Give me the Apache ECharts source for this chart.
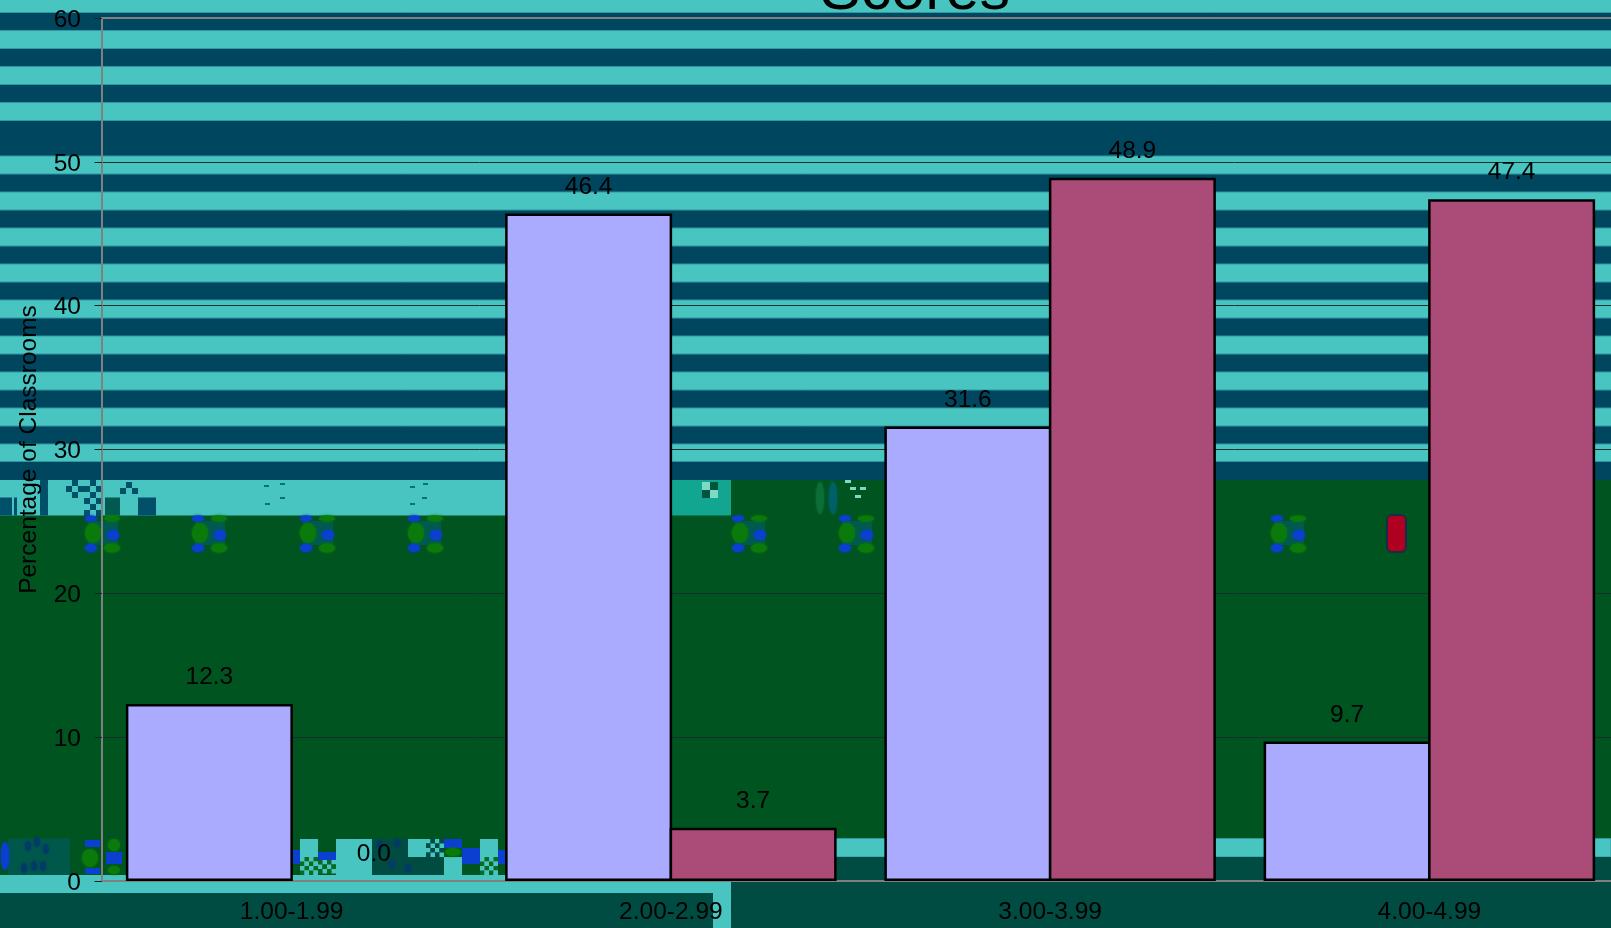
<!DOCTYPE html>
<html>
<head>
<meta charset="utf-8">
<style>html,body{margin:0;padding:0;background:#004C42}#c{width:1611px;height:928px}</style>
<script src="https://cdn.jsdelivr.net/npm/echarts@6/dist/echarts.min.js"></script>
</head>
<body>
<div id="c"></div>
<script>
const categories = ['1.00-1.99', '2.00-2.99', '3.00-3.99', '4.00-4.99'];
const lowerValues = [12.3, 46.4, 31.6, 9.7];
const upperValues = [0.0, 3.7, 48.9, 47.4];
const titleText = 'Scores';
const yAxisTitle = 'Percentage of Classrooms';

const TEAL = '#49C5C1', NAVY = '#00465F', GREEN = '#00541F', DEEP = '#004C42';
const FONT = '"Liberation Sans", Arial, sans-serif';
const bg = [];
function rect(x, y, w, h, fill, stroke) {
  bg.push({type: 'rect', z: -10, silent: true, shape: {x, y, width: w, height: h},
    style: {fill, stroke: stroke || null, lineWidth: stroke ? 1 : 0}});
}
function oval(cx, cy, rx, ry, fill) {
  bg.push({type: 'ellipse', z: -9, silent: true, shape: {cx, cy, rx, ry},
    style: {fill, shadowColor: fill, shadowBlur: 3}});
}
function checker(x, y, w, h, cell, a, b) {
  for (let i = 0; i < Math.round(w / cell); i++)
    for (let j = 0; j < Math.round(h / cell); j++)
      rect(x + i * cell, y + j * cell, cell, cell, (i + j) % 2 ? a : b);
}
function leaf(x) {
  rect(x + 4, 521, 30, 24, '#005A50');
  oval(x + 7, 518.5, 6, 3, '#0A3FD0');
  oval(x + 28, 518.5, 8, 3, '#0A7A0A');
  oval(x + 9, 533, 8, 10, '#0A7A0A');
  oval(x + 29, 535, 6, 5, '#0A3FD0');
  oval(x + 7, 548, 6, 4, '#0A3FD0');
  oval(x + 28, 548, 8, 4.5, '#0A7A0A');
}

// striped upper part of the backdrop
rect(0, 0, 1611, 480, NAVY);
rect(-2, -2, 1615, 14.5, TEAL, '#2E97A0');
[30.5, 66.5, 102.5, 156, 192, 228, 264, 300, 336, 372, 408, 444].forEach(y => {
  rect(-2, y, 1615, y === 444 ? 17.5 : 18, TEAL, '#2E97A0');
});

// middle bands
rect(0, 480, 672, 36, TEAL);
rect(672, 480, 939, 36, GREEN);
rect(672, 480, 59, 36, '#12A58F');
rect(0, 515.5, 1611, 323, GREEN);

// artefact row, left of the first bar
rect(0, 497.5, 12, 18, '#00506A');
rect(14, 497.5, 3, 18, '#00506A');
rect(40, 480, 8, 35.5, '#00506A');
checker(66, 480, 18, 18, 6, '#00506A', TEAL);
checker(84, 480, 18, 36, 6, '#00506A', TEAL);
rect(105, 497.5, 15, 18, '#005A50');
rect(120, 480, 18, 18, TEAL);
checker(120, 482, 18, 12, 6, '#00506A', TEAL);
rect(138, 497.5, 18, 18, '#00506A');
[[264, 485], [280, 483], [280, 497], [265, 503], [410, 486], [423, 483], [422, 497], [410, 503]].forEach(p => rect(p[0], p[1], 5, 2, '#0E6E78'));
checker(702, 482, 12, 16, 8, '#00553A', '#7ED9C6');
[[845, 480], [850, 487], [860, 487], [855, 495]].forEach(p => rect(p[0], p[1], 6, 3, '#7ED9C6'));
oval(820, 498, 4, 16, '#0C6E36');
oval(833, 498, 4, 16, '#00606A');
[84, 191, 299, 407, 731, 838, 1270].forEach(leaf);

// red badge
bg.push({type: 'rect', z: -9, silent: true, shape: {x: 1387, y: 515, width: 19, height: 37, r: 5},
  style: {fill: '#B00022', stroke: '#1B2A4A', lineWidth: 2}});

// lower artefact row
rect(0, 838.5, 510, 36.5, GREEN);
rect(8, 838.5, 62, 36.5, '#00584A');
[[28, 846], [37, 842], [46, 849], [24, 868], [34, 866], [43, 866]].forEach(p => oval(p[0], p[1], 3, 5, '#003A66'));
oval(5, 856, 4, 14, '#0A3FD0');
rect(85, 840, 15, 7, '#0A3FD0');
oval(90, 858, 8, 9, '#0A7A0A');
rect(85, 868, 15, 6, '#0A3FD0');
oval(114, 845, 6, 6, '#0A7A0A');
rect(106, 852, 16, 12, '#0A3FD0');
oval(114, 870, 6, 4, '#0A7A0A');
rect(293, 850, 7, 14, '#0A3FD0');
rect(300, 839, 18, 36, TEAL);
checker(300, 857, 18, 18, 4.5, '#0A6A20', TEAL);
rect(318, 839, 18, 36, GREEN);
rect(318, 852, 18, 12, '#0A3FD0');
checker(318, 860, 18, 15, 4.5, TEAL, '#0A6A20');
rect(336, 839, 36, 36, TEAL);
rect(372, 839, 71, 36, DEEP);
[[397, 843], [380, 845], [392, 864], [408, 868]].forEach(p => oval(p[0], p[1], 3, 4, '#003A66'));
rect(408, 839, 18, 18, TEAL);
checker(426, 839, 18, 18, 4.5, DEEP, TEAL);
rect(444, 839, 18, 9, '#0A3FD0');
oval(453, 852, 8, 4, '#0A7A0A');
rect(444, 857, 18, 18, TEAL);
rect(462, 848, 18, 16, '#0A3FD0');
rect(480, 839, 18, 36, TEAL);
checker(480, 857, 18, 18, 4.5, '#0A6A20', TEAL);
rect(498, 850, 8, 14, '#0A3FD0');

// bottom bands
rect(510, 838.5, 1101, 18.5, TEAL, '#2E97A0');
rect(510, 857, 1101, 71, DEEP);
rect(0, 875, 731, 18, TEAL);
rect(0, 893, 713, 35, DEEP);
rect(713, 893, 18, 35, TEAL);
rect(731, 875, 880, 53, DEEP);

const labelStyle = {show: true, position: 'top', distance: 14, color: '#000',
  fontFamily: FONT, fontSize: 24.5, formatter: p => Number(p.value).toFixed(1)};
const barBase = {type: 'bar', barWidth: 167, barGap: '-1.5%', label: labelStyle};
const withoutZeroOutline = values => values.map(v => v === 0 ? {value: v, itemStyle: {borderWidth: 0}} : v);

const chart = echarts.init(document.getElementById('c'), null, {renderer: 'canvas'});
chart.setOption({
  animation: false,
  backgroundColor: 'transparent',
  graphic: {elements: bg},
  title: {text: titleText, left: 910, top: -43, textAlign: 'center',
    textStyle: {fontFamily: FONT, fontSize: 61, fontWeight: 'normal', color: '#000'}},
  grid: {show: true, left: 102, top: 18, width: 1517, height: 863, outerBoundsMode: 'none', containLabel: false,
    backgroundColor: 'transparent', borderColor: '#808080', borderWidth: 2},
  xAxis: {type: 'category', data: categories,
    axisLine: {lineStyle: {color: '#808080', width: 2}},
    axisTick: {length: 7, lineStyle: {color: '#303030', width: 1}},
    axisLabel: {color: '#000', fontFamily: FONT, fontSize: 24.5, margin: 19}},
  yAxis: {type: 'value', min: 0, max: 60, interval: 10,
    name: yAxisTitle, nameLocation: 'middle', nameGap: 60, nameRotate: 90,
    nameTextStyle: {color: '#000', fontFamily: FONT, fontSize: 24.5},
    axisLine: {show: true, lineStyle: {color: '#808080', width: 2}},
    axisTick: {show: true, length: 7.5, lineStyle: {color: '#202020', width: 1}},
    axisLabel: {color: '#000', fontFamily: FONT, fontSize: 24.5, margin: 21, verticalAlign: 'top', lineHeight: 4},
    splitLine: {show: true, showMinLine: false, showMaxLine: false, lineStyle: {color: '#17302C', width: 1}}},
  series: [
    Object.assign({}, barBase, {name: 'Group A', data: lowerValues,
      itemStyle: {color: '#AAAAFF', borderColor: '#000', borderWidth: 2.5}}),
    Object.assign({}, barBase, {name: 'Group B', data: withoutZeroOutline(upperValues),
      itemStyle: {color: '#AB4B78', borderColor: '#000', borderWidth: 2.5}})
  ]
});
</script>
</body>
</html>
